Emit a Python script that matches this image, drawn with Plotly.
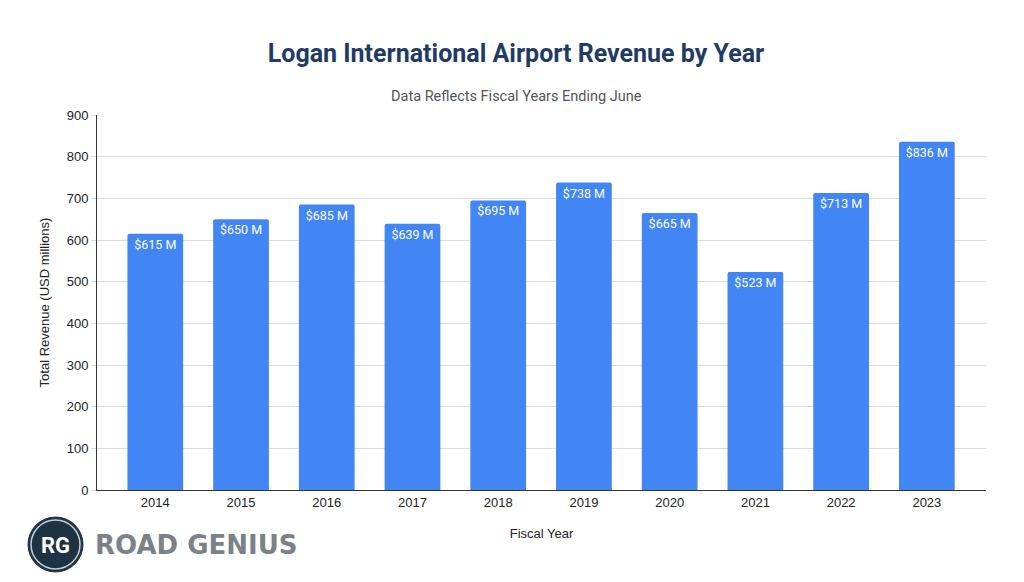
import plotly.graph_objects as go

years = ["2014", "2015", "2016", "2017", "2018", "2019", "2020", "2021", "2022", "2023"]
revenue = [615, 650, 685, 639, 695, 738, 665, 523, 713, 836]
labels = [f"${v} M" for v in revenue]
y_ticks = [0, 100, 200, 300, 400, 500, 600, 700, 800, 900]

# page body has an 8px margin: figure coords = screenshot coords - 8
W, H = 1016, 574
L, R, T, B = 89, 38, 107, 92
PW, PH = W - L - R, H - T - B


def px(x):
    return (x - 8 - L) / PW


def py(y):
    return (H - B - (y - 8)) / PH


AX_FONT = dict(family="Liberation Sans, Arial", size=13, color="#222222")

fig = go.Figure()
fig.add_trace(go.Bar(
    x=list(range(len(years))), y=revenue, text=labels,
    textposition="inside", insidetextanchor="end",
    textfont=dict(family="Roboto", size=12.5, color="white"),
    marker=dict(color="#4285F4", line=dict(width=0), cornerradius=2),
    width=0.65, cliponaxis=False, hoverinfo="skip",
))

fig.update_layout(
    width=W, height=H,
    paper_bgcolor="white", plot_bgcolor="white",
    margin=dict(l=L, r=R, t=T, b=B),
    showlegend=False,
    title=dict(
        text="Logan International Airport Revenue by Year",
        x=0.5, xanchor="center", y=1 - (53 - 8) / H, yanchor="middle",
        font=dict(family="Roboto", size=25, color="#1f3b66", weight="bold"),
    ),
    xaxis=dict(
        tickmode="array", tickvals=list(range(len(years))), ticktext=years,
        range=[-0.68, 9.69], showgrid=False, zeroline=False,
        showline=True, linecolor="#333333", linewidth=1,
        ticks="", tickfont=AX_FONT,
        title=dict(text="Fiscal Year", font=AX_FONT, standoff=20),
    ),
    yaxis=dict(
        range=[0, 900], tickvals=y_ticks, showgrid=True, gridcolor="#dcdcdc", gridwidth=1,
        zeroline=False, showline=True, linecolor="#333333", linewidth=1,
        ticks="outside", ticklen=5, tickcolor="#dcdcdc",
        tickfont=AX_FONT,
        title=dict(text="Total Revenue (USD millions)", font=AX_FONT, standoff=14),
    ),
)

fig.add_annotation(text="Data Reflects Fiscal Years Ending June", xref="paper", yref="paper",
                   x=px(516), y=py(96), showarrow=False,
                   font=dict(family="Roboto", size=14.5, color="#555555"),
                   xanchor="center", yanchor="middle")

# Logo
fig.add_shape(type="circle", xref="paper", yref="paper",
              x0=px(28), x1=px(83), y0=py(572), y1=py(517),
              fillcolor="#1d3242", line=dict(color="#1d3242", width=1))
fig.add_shape(type="circle", xref="paper", yref="paper",
              x0=px(31), x1=px(80), y0=py(569), y1=py(520),
              fillcolor="rgba(0,0,0,0)", line=dict(color="#c8ced3", width=1.5))
fig.add_annotation(text="<b>RG</b>", xref="paper", yref="paper",
                   x=px(55.5), y=py(545), showarrow=False,
                   font=dict(family="Roboto", size=22, color="white"),
                   xanchor="center", yanchor="middle")
fig.add_annotation(text="<b>ROAD GENIUS</b>", xref="paper", yref="paper",
                   x=px(93), y=py(545), showarrow=False,
                   font=dict(family="DejaVu Sans", size=26, color="#7a8288"),
                   xanchor="left", yanchor="middle")

fig.write_html("out.html")
